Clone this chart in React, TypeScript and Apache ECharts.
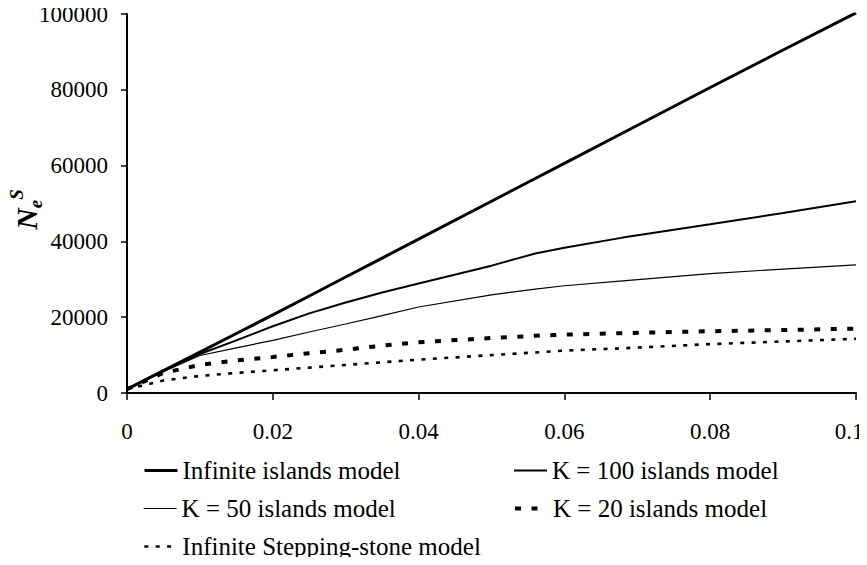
import React, { useEffect, useRef } from "react";
import * as echarts from "echarts";

const mValues = [0, 0.005, 0.01, 0.015, 0.02, 0.025, 0.03, 0.035, 0.04, 0.05, 0.056, 0.06, 0.068, 0.08, 0.09, 0.1];

const infiniteIslands = [1000, 5900, 10800, 15700, 20600, 25600, 30600, 35600, 40600, 50600, 56600, 60600, 68600, 80600, 90500, 100300];
const k100Islands = [1000, 5800, 10300, 13900, 17600, 21000, 23900, 26500, 28900, 33600, 36800, 38300, 41000, 44500, 47500, 50600];
const k50Islands = [1000, 5700, 9900, 11900, 13900, 16100, 18200, 20400, 22700, 25900, 27400, 28300, 29600, 31500, 32700, 33800];
const k20Islands = [1000, 5300, 7400, 8600, 9500, 10500, 11400, 12500, 13400, 14500, 15100, 15400, 15800, 16300, 16600, 17000];
const steppingStone = [1000, 3300, 4500, 5300, 6000, 6700, 7400, 8100, 8800, 10000, 10700, 11200, 11800, 12900, 13600, 14300];

const seriesNames = [
  "Infinite islands model",
  "K = 100 islands model",
  "K = 50 islands model",
  "K = 20 islands model",
  "Infinite Stepping-stone model",
];

const yTicks = [0, 20000, 40000, 60000, 80000, 100000];
const xMax = 0.1;

const FONT = "'Liberation Serif', 'Times New Roman', serif";

function pairs(vals: number[]) {
  return mValues.map((m, i) => [m, vals[i]]);
}

export default function App() {
  const ref = useRef<HTMLDivElement>(null);
  useEffect(() => {
    if (!ref.current) return;
    const chart = echarts.init(ref.current, null, { renderer: "svg" });
    const legendText = { fontFamily: FONT, fontSize: 25, color: "#000" };
    const widths = [3, 2, 1.2, 4, 2.6];
    const mkLegend = (i: number, left: number, top: number) => ({
      data: [seriesNames[i]],
      left,
      top,
      itemWidth: 33,
      itemHeight: 2,
      itemStyle: { opacity: 0 },
      lineStyle: { width: widths[i] },
      textStyle: legendText,
      selectedMode: false,
      padding: 0,
    });
    const mkSeries = (i: number, vals: number[], type: any) => ({
      name: seriesNames[i],
      type: "line",
      data: pairs(vals),
      symbol: "none",
      smooth: false,
      lineStyle: { color: "#000", width: widths[i], type, cap: "butt" },
      itemStyle: { color: "#000" },
    });
    const ital = { fontFamily: FONT, fontStyle: "italic", fontWeight: "bold", color: "#000" };
    chart.setOption({
      animation: false,
      backgroundColor: "#fff",
      grid: { left: 127, right: 11, top: 14, bottom: 172, containLabel: false, outerBoundsMode: "none" },
      xAxis: {
        type: "value",
        min: 0,
        max: xMax,
        interval: 0.02,
        axisLine: { lineStyle: { color: "#000", width: 2 } },
        axisTick: { show: true, length: 7, lineStyle: { color: "#000", width: 1.5 } },
        splitLine: { show: false },
        axisLabel: {
          margin: 27,
          fontFamily: FONT,
          fontSize: 23,
          color: "#000",
          formatter: (v: number) => {
            const s = String(+v.toFixed(2));
            return Math.abs(v - xMax) < 1e-9 ? "{r|" + s + "}" : s;
          },
          rich: {
            r: { fontFamily: FONT, fontSize: 23, color: "#000", padding: [0, 14, 0, 0] },
          },
        },
      },
      yAxis: {
        type: "value",
        min: yTicks[0],
        max: yTicks[yTicks.length - 1],
        interval: yTicks[1] - yTicks[0],
        axisLine: { show: true, lineStyle: { color: "#000", width: 2 } },
        axisTick: { show: true, length: 6, lineStyle: { color: "#000", width: 1.5 } },
        splitLine: { show: false },
        axisLabel: {
          margin: 19,
          fontFamily: FONT,
          fontSize: 23,
          color: "#000",
          formatter: (v: number) => String(v),
        },
        name: "{n|N}{e|e}{s|S}",
        nameLocation: "middle",
        nameGap: 82,
        nameRotate: 90,
        nameMoveOverlap: false,
        nameTextStyle: {
          fontFamily: FONT,
          color: "#000",
          padding: [0, 12, 0, 0],
          rich: {
            n: { ...ital, fontSize: 30, lineHeight: 38 },
            e: { ...ital, fontSize: 19, lineHeight: 19, verticalAlign: "bottom" },
            s: { ...ital, fontSize: 19, lineHeight: 19, verticalAlign: "top" },
          },
        },
      },
      legend: [
        mkLegend(0, 143, 458),
        mkLegend(1, 513, 458),
        mkLegend(2, 143, 496),
        mkLegend(3, 513, 496),
        mkLegend(4, 143, 534),
      ],
      series: [
        mkSeries(0, infiniteIslands, "solid"),
        mkSeries(1, k100Islands, "solid"),
        mkSeries(2, k50Islands, "solid"),
        mkSeries(3, k20Islands, [6, 10.5]),
        mkSeries(4, steppingStone, [4, 7.4]),
      ],
    });
    return () => chart.dispose();
  }, []);
  return <div ref={ref} style={{ width: 867, height: 565, margin: -8 }} />;
}
